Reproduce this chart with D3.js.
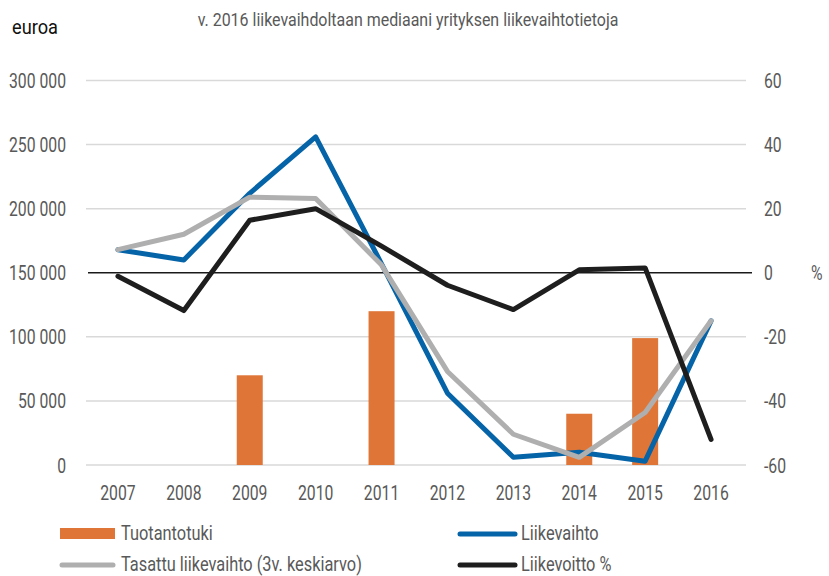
<!DOCTYPE html>
<html><head><meta charset="utf-8">
<script src="https://cdn.jsdelivr.net/npm/d3@7"></script>
<style>
body{margin:0;background:#fff;}
text{font-family:Roboto,"Noto Sans",sans-serif;}
</style></head>
<body><svg id="c" width="829" height="576"></svg>
<script>
const years = ["2007","2008","2009","2010","2011","2012","2013","2014","2015","2016"];
const tuotantotuki = [null,null,70000,null,120000,null,null,40000,99000,null];
const liikevaihto = [168000,160000,212000,256000,157000,56000,6000,10000,3000,112500];
const tasattu = [168000,180000,209000,208000,156000,73000,24000,6000,41000,112500];
const liikevoitto = [-1.1,-11.8,16.4,20.0,8.3,-3.9,-11.5,0.9,1.5,-52];
const leftTicks = [0,50000,100000,150000,200000,250000,300000];
const rightTicks = [-60,-40,-20,0,20,40,60];
const title = "v. 2016 liikevaihdoltaan mediaani yrityksen liikevaihtotietoja";

const svg = d3.select("#c");
const x = d3.scaleBand().domain(years).range([85,744]);
const yL = d3.scaleLinear().domain([0,300000]).range([465,80.5]);
const yR = d3.scaleLinear().domain([-60,60]).range([465,80.5]);
const fmt = v => d3.format(",")(v).replace(/,/g," ");
const txt = "#595959";

function natWidth(str, size){
  const t = svg.append("text").attr("font-size",size).text(str);
  const w = t.node().getComputedTextLength(); t.remove(); return w;
}
const fAxis = 57 / natWidth("300 000", 21);
const fLeg = 241 / natWidth("Tasattu liikevaihto (3v. keskiarvo)", 21);
const fTitle = 421 / natWidth(title, 18);
const fEur = 46 / natWidth("euroa", 21);

function ctext(g, px, py, str, size, fill, anchor, f){
  return g.append("text").attr("transform",`translate(${px},${py}) scale(${f},1)`)
    .attr("text-anchor",anchor||"start").attr("font-size",size).attr("fill",fill).text(str);
}

svg.append("g").selectAll("line").data(leftTicks.filter(d=>d!==150000)).join("line")
  .attr("x1",86).attr("x2",746).attr("y1",d=>yL(d)).attr("y2",d=>yL(d))
  .attr("stroke","#d9d9d9").attr("stroke-width",1.5);

const ax = svg.append("g");
leftTicks.forEach(d=>ctext(ax,66,yL(d)+7.5,fmt(d),21,txt,"end",fAxis));
rightTicks.forEach(d=>ctext(ax,764,yR(d)+7.5,String(d),21,txt,"start",fAxis));
ctext(ax,811,yR(0)+7.5,"%",21,txt,"start",fAxis);
years.forEach(d=>ctext(ax,x(d)+x.bandwidth()/2,500,d,21,txt,"middle",fAxis));

const bw = 26;
svg.append("g").selectAll("rect").data(years.map((y,i)=>({y,v:tuotantotuki[i]})).filter(d=>d.v!==null)).join("rect")
  .attr("x",d=>x(d.y)+x.bandwidth()/2-bw/2).attr("width",bw)
  .attr("y",d=>yL(d.v)).attr("height",d=>yL(0)-yL(d.v)).attr("fill","#df7638");

svg.append("line").attr("x1",88).attr("x2",752).attr("y1",yR(0)).attr("y2",yR(0))
  .attr("stroke","#1a1a1a").attr("stroke-width",1.5);

const cx = d => x(d)+x.bandwidth()/2;
function drawLine(vals, yS, color){
  const ln = d3.line().x((d,i)=>cx(years[i])).y(d=>yS(d));
  svg.append("path").datum(vals).attr("d",ln).attr("fill","none")
    .attr("stroke",color).attr("stroke-width",5).attr("stroke-linejoin","round").attr("stroke-linecap","round");
}
drawLine(liikevaihto, yL, "#0563a8");
drawLine(tasattu, yL, "#afafaf");
drawLine(liikevoitto, yR, "#1e1e1e");

const tg = svg.append("g");
ctext(tg,408,26,title,18,txt,"middle",fTitle);
ctext(tg,12,34,"euroa",21,"#111","start",fEur);

const lg = svg.append("g");
lg.append("rect").attr("x",60).attr("y",528).attr("width",55).attr("height",11).attr("fill","#df7638");
ctext(lg,121,540,"Tuotantotuki",21,txt,"start",fLeg);
lg.append("line").attr("x1",62).attr("x2",113).attr("y1",565).attr("y2",565).attr("stroke","#afafaf").attr("stroke-width",5).attr("stroke-linecap","round");
ctext(lg,121,571,"Tasattu liikevaihto (3v. keskiarvo)",21,txt,"start",fLeg);
lg.append("line").attr("x1",460).attr("x2",515).attr("y1",534).attr("y2",534).attr("stroke","#0563a8").attr("stroke-width",5).attr("stroke-linecap","round");
ctext(lg,521,540,"Liikevaihto",21,txt,"start",fLeg);
lg.append("line").attr("x1",460).attr("x2",515).attr("y1",565).attr("y2",565).attr("stroke","#1e1e1e").attr("stroke-width",5).attr("stroke-linecap","round");
ctext(lg,521,571,"Liikevoitto %",21,txt,"start",fLeg);
</script></body></html>
